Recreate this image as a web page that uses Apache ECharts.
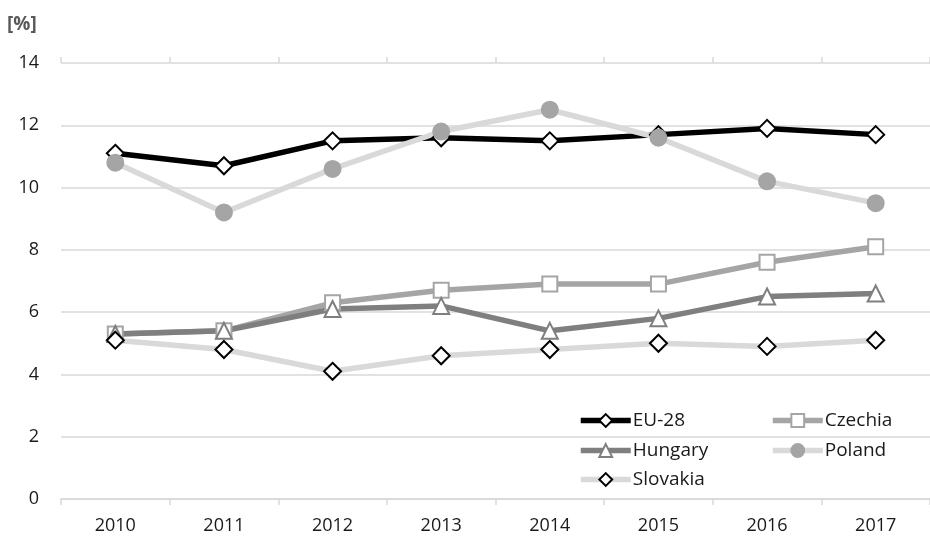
<!DOCTYPE html>
<html><head><meta charset="utf-8">
<script src="https://cdn.jsdelivr.net/npm/echarts@6/dist/echarts.min.js"></script>
<style>html,body{margin:0;padding:0;background:#fff}#c{width:930px;height:536px}</style>
</head><body><div id="c"></div>
<script>
var years = ['2010','2011','2012','2013','2014','2015','2016','2017'];
var eu28 = [11.1, 10.7, 11.5, 11.6, 11.5, 11.7, 11.9, 11.7];
var czechia = [5.3, 5.4, 6.3, 6.7, 6.9, 6.9, 7.6, 8.1];
var hungary = [5.3, 5.4, 6.1, 6.2, 5.4, 5.8, 6.5, 6.6];
var poland = [10.8, 9.2, 10.6, 11.8, 12.5, 11.6, 10.2, 9.5];
var slovakia = [5.1, 4.8, 4.1, 4.6, 4.8, 5.0, 4.9, 5.1];
var yTicks = [0, 2, 4, 6, 8, 10, 12, 14];

var FONT = 'Open Sans';
var chart = echarts.init(document.getElementById('c'), null, {renderer: 'canvas'});

function mkSeries(name, data, lineColor, symbol, size, fill, border) {
  return {
    name: name, type: 'line', data: data,
    xAxisIndex: 0, yAxisIndex: 0,
    symbol: symbol, symbolSize: size, showAllSymbol: true,
    lineStyle: {color: lineColor, width: 5.5},
    itemStyle: {color: fill, borderColor: border, borderWidth: 2},
    emphasis: {disabled: true},
    animation: false
  };
}

function leg(name, left, top) {
  return {
    data: [name], left: left, top: top, orient: 'horizontal',
    itemWidth: 50, itemHeight: 16, itemGap: 0, padding: 0,
    lineStyle: {width: 5.5},
    textStyle: {fontFamily: FONT, fontSize: 19, color: '#1a1a1a', padding: [0, 0, 0, -3]},
    selectedMode: false
  };
}

var option = {
  backgroundColor: '#ffffff',
  animation: false,
  title: {
    text: '[%]', left: 7, top: 15, padding: 0,
    textStyle: {fontFamily: FONT, fontSize: 19, fontWeight: 'bold', color: '#595959'}
  },
  grid: {left: 61, right: -7, top: 63, bottom: 37, containLabel: false},
  legend: [
    leg('EU-28', 578, 411),
    leg('Czechia', 770, 411),
    leg('Hungary', 578, 441),
    leg('Poland', 770, 441),
    leg('Slovakia', 578, 470)
  ],
  xAxis: [{
    type: 'category', data: years, boundaryGap: true, position: 'bottom',
    axisLine: {show: true, lineStyle: {color: '#d9d9d9', width: 1.5}},
    axisTick: {show: true, length: 6, lineStyle: {color: '#d9d9d9', width: 1.5}},
    axisLabel: {fontFamily: FONT, fontSize: 18, color: '#1a1a1a', margin: 18},
    splitLine: {show: false}
  }, {
    type: 'category', data: years, boundaryGap: true, position: 'top',
    axisLine: {show: false, onZero: true},
    axisTick: {show: true, length: 6, lineStyle: {color: '#d9d9d9', width: 1.5}},
    axisLabel: {show: false},
    splitLine: {show: false}
  }],
  yAxis: {
    type: 'value', min: 0, max: 14, interval: 2,
    axisLine: {show: false}, axisTick: {show: false},
    axisLabel: {fontFamily: FONT, fontSize: 18, color: '#1a1a1a', margin: 22},
    splitLine: {show: true, lineStyle: {color: '#d9d9d9', width: 1.5}}
  },
  series: [
    mkSeries('EU-28', eu28, '#000000', 'diamond', 17, '#ffffff', '#000000'),
    mkSeries('Czechia', czechia, '#a5a5a5', 'rect', 15, '#ffffff', '#a5a5a5'),
    mkSeries('Hungary', hungary, '#7f7f7f', 'triangle', 16, '#ffffff', '#7f7f7f'),
    mkSeries('Poland', poland, '#d9d9d9', 'circle', 16, '#a5a5a5', '#a5a5a5'),
    mkSeries('Slovakia', slovakia, '#d9d9d9', 'diamond', 17, '#ffffff', '#000000')
  ]
};
chart.setOption(option);
</script>
</body></html>
